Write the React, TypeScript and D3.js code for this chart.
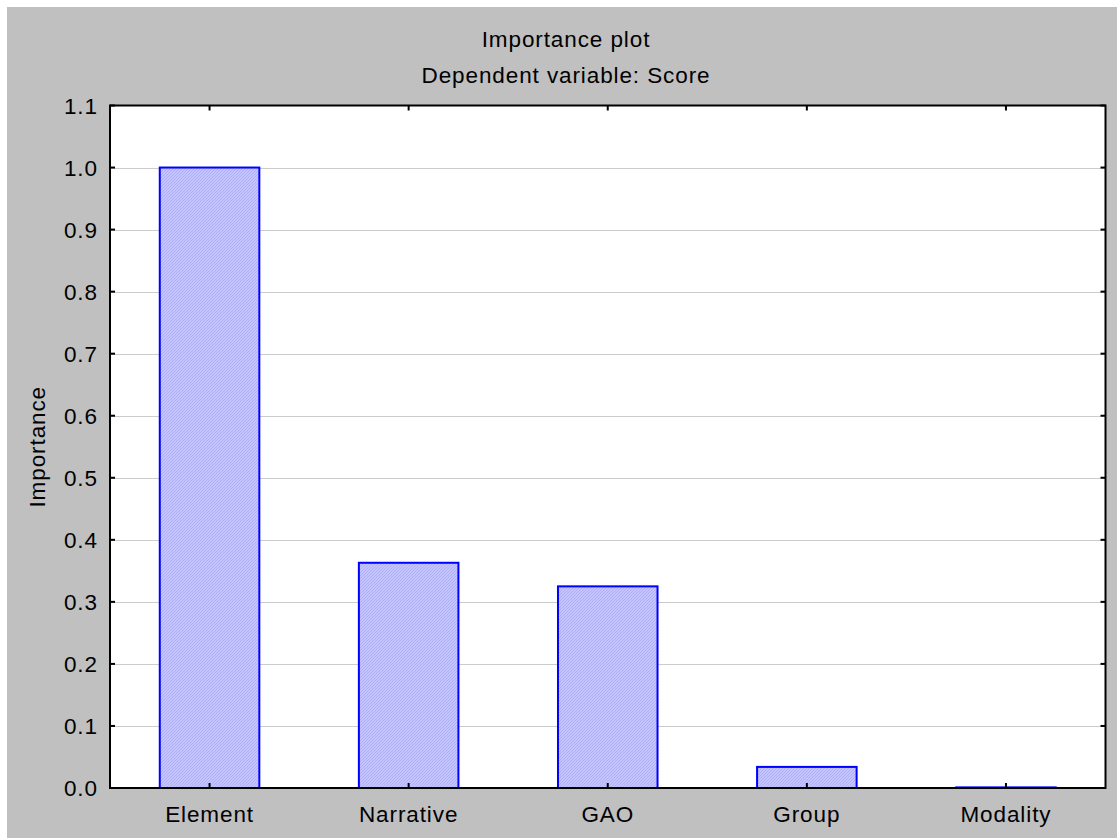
import React from "react";
import * as d3 from "d3";

const categories: string[] = ["Element", "Narrative", "GAO", "Group", "Modality"];
const importance: number[] = [1.0, 0.363, 0.325, 0.034, 0.001];
const yTicks: number[] = [0.0, 0.1, 0.2, 0.3, 0.4, 0.5, 0.6, 0.7, 0.8, 0.9, 1.0, 1.1];
const titleLines: string[] = ["Importance plot", "Dependent variable: Score"];
const yLabel = "Importance";

const W = 1117;
const H = 838;
const plot = { left: 110, right: 1105.5, top: 105.5, bottom: 788 };
const FONT = "'Liberation Sans', Arial, sans-serif";
const FS = 22.5;
const LS = 0.9;

export default function App() {
  const x = d3
    .scaleBand<string>()
    .domain(categories)
    .range([plot.left, plot.right])
    .paddingInner(0.5)
    .paddingOuter(0.25);
  const y = d3.scaleLinear().domain([0, 1.1]).range([plot.bottom, plot.top]);
  const center = (c: string) => (x(c) ?? 0) + x.bandwidth() / 2;

  return (
    <svg
      width={W}
      height={H}
      style={{ position: "fixed", left: 0, top: 0, display: "block" }}
      fontFamily={FONT}
    >
      <defs>
        <pattern id="hatch" width="3" height="3" patternUnits="userSpaceOnUse">
          <rect width="3" height="3" fill="#c4c4ff" />
          <path d="M-1,1 l2,-2 M0,3 l3,-3 M2,4 l2,-2" stroke="#aaaaf4" strokeWidth="0.8" />
        </pattern>
      </defs>
      <rect x={0} y={0} width={W} height={H} fill="#ffffff" />
      <rect x={7} y={7} width={W - 7} height={H - 7} fill="#c0c0c0" />
      <rect
        x={plot.left}
        y={plot.top}
        width={plot.right - plot.left}
        height={plot.bottom - plot.top}
        fill="#ffffff"
      />
      {/* gridlines */}
      {yTicks.slice(1, -1).map((t) => (
        <line
          key={"g" + t}
          x1={plot.left}
          x2={plot.right}
          y1={Math.round(y(t)) + 0.5}
          y2={Math.round(y(t)) + 0.5}
          stroke="#cccccc"
          strokeWidth={1}
        />
      ))}
      {/* bars */}
      {categories.map((c, i) => (
        <rect
          key={c}
          x={x(c)}
          y={y(importance[i])}
          width={x.bandwidth()}
          height={y(0) - y(importance[i])}
          fill="url(#hatch)"
          stroke="#0000ff"
          strokeWidth={2}
        />
      ))}
      {/* frame */}
      <rect
        x={plot.left}
        y={plot.top}
        width={plot.right - plot.left}
        height={plot.bottom - plot.top}
        fill="none"
        stroke="#000000"
        strokeWidth={2}
      />
      {/* y ticks */}
      {yTicks.map((t) => (
        <g key={"t" + t}>
          <line x1={plot.left} x2={plot.left + 5} y1={y(t)} y2={y(t)} stroke="#000" strokeWidth={2} />
          <line x1={plot.right - 5} x2={plot.right} y1={y(t)} y2={y(t)} stroke="#000" strokeWidth={2} />
          <text
            x={97 + LS}
            y={y(t) + 8}
            textAnchor="end"
            fontSize={FS}
            letterSpacing={LS}
            fill="#000"
          >
            {d3.format(".1f")(t)}
          </text>
        </g>
      ))}
      {/* x ticks and labels */}
      {categories.map((c) => (
        <g key={"x" + c}>
          <line x1={center(c)} x2={center(c)} y1={plot.bottom} y2={plot.bottom - 5} stroke="#000" strokeWidth={2} />
          <line x1={center(c)} x2={center(c)} y1={plot.top} y2={plot.top + 5} stroke="#000" strokeWidth={2} />
          <text x={center(c)} y={822} textAnchor="middle" fontSize={FS} letterSpacing={LS} fill="#000">
            {c}
          </text>
        </g>
      ))}
      {/* titles */}
      {titleLines.map((t, i) => (
        <text
          key={t}
          x={566}
          y={47 + i * 36}
          textAnchor="middle"
          fontSize={FS}
          letterSpacing={LS}
          fill="#000"
        >
          {t}
        </text>
      ))}
      <text
        transform={`translate(45, ${(plot.top + plot.bottom) / 2}) rotate(-90)`}
        textAnchor="middle"
        fontSize={FS}
        letterSpacing={LS}
        fill="#000"
      >
        {yLabel}
      </text>
    </svg>
  );
}
